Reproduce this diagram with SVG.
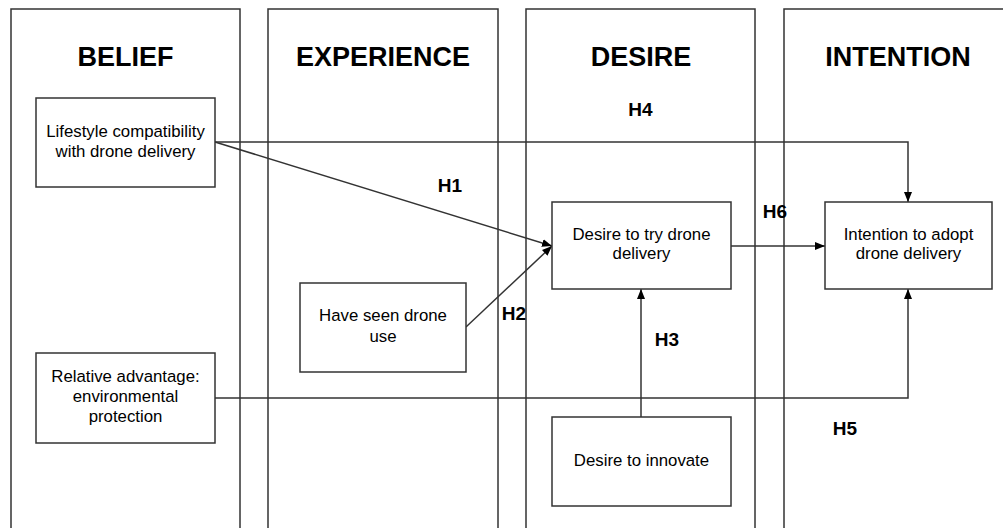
<svg xmlns="http://www.w3.org/2000/svg" width="1003" height="528" viewBox="0 0 1003 528">
<style>
.lane{fill:#fff;stroke:#333;stroke-width:1.5}
.box{fill:#fff;stroke:#333;stroke-width:1.5}
.title{font-family:"Liberation Sans",Arial,sans-serif;font-weight:bold;font-size:27px;text-anchor:middle;fill:#000}
.t{font-family:"Liberation Sans",Arial,sans-serif;font-size:16.8px;text-anchor:middle;fill:#000}
.h{font-family:"Liberation Sans",Arial,sans-serif;font-weight:bold;font-size:19px;text-anchor:middle;fill:#000}
.c{fill:none;stroke:#333;stroke-width:1.5}
</style>
<defs>
<marker id="arr" viewBox="0 0 10 10" refX="10" refY="5" markerWidth="10" markerHeight="10" markerUnits="userSpaceOnUse" orient="auto">
<path d="M0,1 L10,5 L0,9 Z" fill="#000"/>
</marker>
</defs>
<rect width="1003" height="528" fill="#fff"/>
<g id="lanes">
<g id="lane-belief"><rect class="lane" x="11" y="9" width="229" height="530"/><text class="title" x="125.5" y="66">BELIEF</text></g>
<g id="lane-experience"><rect class="lane" x="268" y="9" width="230" height="530"/><text class="title" x="383" y="66">EXPERIENCE</text></g>
<g id="lane-desire"><rect class="lane" x="526" y="9" width="229" height="530"/><text class="title" x="641" y="66">DESIRE</text></g>
<g id="lane-intention"><rect class="lane" x="784" y="9" width="229" height="530"/><text class="title" x="898" y="66">INTENTION</text></g>
</g>
<g id="connectors">
<polyline class="c" points="215,142 908,142 908,202" marker-end="url(#arr)"/>
<line class="c" x1="215" y1="142" x2="552" y2="246" marker-end="url(#arr)"/>
<line class="c" x1="466" y1="327" x2="552" y2="246" marker-end="url(#arr)"/>
<line class="c" x1="731" y1="246" x2="825" y2="246" marker-end="url(#arr)"/>
<line class="c" x1="641" y1="417" x2="641" y2="289" marker-end="url(#arr)"/>
<polyline class="c" points="215,398 908,398 908,289" marker-end="url(#arr)"/>
<text class="h" x="640.5" y="116">H4</text>
<text class="h" x="450" y="192">H1</text>
<text class="h" x="775" y="218">H6</text>
<text class="h" x="514" y="320">H2</text>
<text class="h" x="667" y="346">H3</text>
<text class="h" x="845" y="435">H5</text>
</g>
<g id="node-lifestyle"><rect class="box" x="36" y="98" width="179" height="89"/><text class="t" x="125.5" y="137">Lifestyle compatibility</text><text class="t" x="125.5" y="157">with drone delivery</text></g>
<g id="node-relative"><rect class="box" x="36" y="353" width="179" height="90"/><text class="t" x="125.5" y="382">Relative advantage:</text><text class="t" x="125.5" y="402">environmental</text><text class="t" x="125.5" y="422">protection</text></g>
<g id="node-seen"><rect class="box" x="300" y="283" width="166" height="89"/><text class="t" x="383" y="321">Have seen drone</text><text class="t" x="383" y="342">use</text></g>
<g id="node-desire-try"><rect class="box" x="552" y="202" width="179" height="87"/><text class="t" x="641.5" y="240">Desire to try drone</text><text class="t" x="641.5" y="259">delivery</text></g>
<g id="node-innovate"><rect class="box" x="552" y="417" width="179" height="89"/><text class="t" x="641.5" y="466">Desire to innovate</text></g>
<g id="node-intention"><rect class="box" x="825" y="202" width="167" height="87"/><text class="t" x="908.5" y="240">Intention to adopt</text><text class="t" x="908.5" y="259">drone delivery</text></g>
</svg>
